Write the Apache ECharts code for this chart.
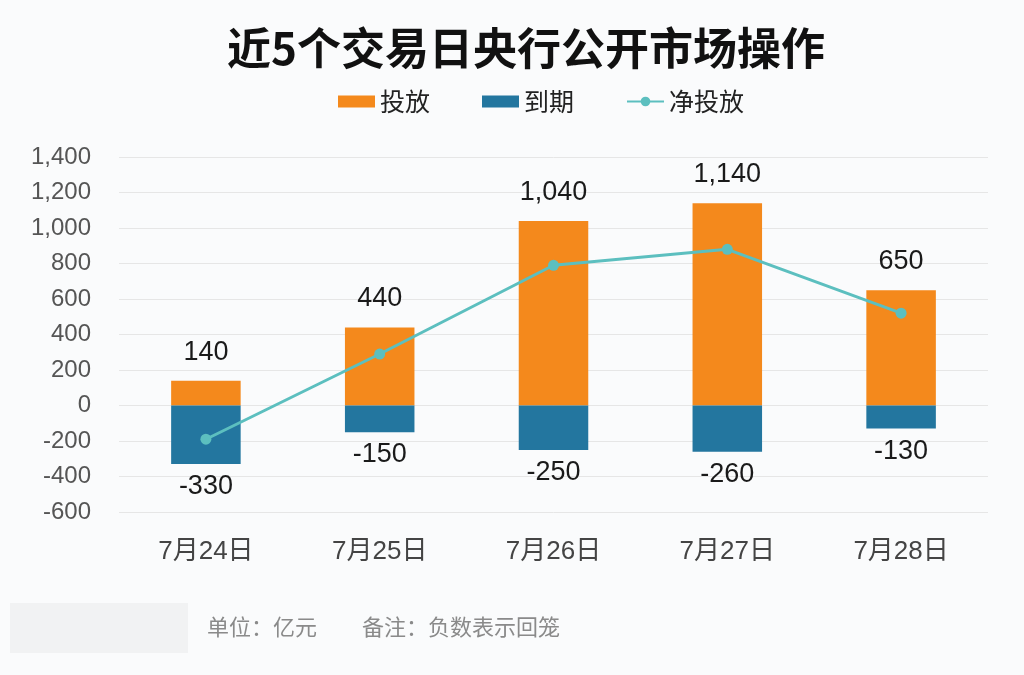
<!DOCTYPE html>
<html><head><meta charset="utf-8">
<script src="https://cdn.jsdelivr.net/npm/echarts@6/dist/echarts.min.js"></script>
<style>html,body{margin:0;padding:0;background:#fafbfc;}#c{width:1024px;height:675px;}</style>
</head><body><div id="c"></div>
<script>
var categories = ['7月24日','7月25日','7月26日','7月27日','7月28日'];
var injection = [140, 440, 1040, 1140, 650];
var maturity = [-330, -150, -250, -260, -130];
var netInjection = [-190, 290, 790, 880, 520];
var yTicks = {min: -600, max: 1400, interval: 200};

var chart = echarts.init(document.getElementById('c'));
var font = "'Noto Sans CJK SC', 'Liberation Sans', sans-serif";
var numFont = "'Liberation Sans', 'Noto Sans CJK SC', sans-serif";
chart.setOption({
  backgroundColor: '#fafbfc',
  animation: false,
  title: {text: '近5个交易日央行公开市场操作', left: 222, top: 21,
    textStyle: {fontSize: 44, fontWeight: 'bold', color: '#111', fontFamily: font}},
  legend: {top: 84, left: 333, itemGap: 52, itemWidth: 37, itemHeight: 12,
    textStyle: {fontSize: 25, color: '#222', fontFamily: font},
    data: [{name: '投放', icon: 'rect'}, {name: '到期', icon: 'rect'}, {name: '净投放'}]},
  grid: {left: 119, right: 36, top: 157, bottom: 163, containLabel: false},
  xAxis: {type: 'category', data: categories,
    axisLine: {show: false}, axisTick: {show: false},
    axisLabel: {fontSize: 26, color: '#444', margin: 27, fontFamily: numFont}},
  yAxis: {type: 'value', min: yTicks.min, max: yTicks.max, interval: yTicks.interval,
    axisLine: {show: false}, axisTick: {show: false},
    splitLine: {lineStyle: {color: '#e6e6e6', width: 1}},
    axisLabel: {fontSize: 24, color: '#555', margin: 28, fontFamily: numFont,
      formatter: function(v){ return v.toLocaleString('en-US'); }}},
  series: [
    {name: '投放', type: 'bar', stack: 's', data: injection, barWidth: '40%',
      itemStyle: {color: '#f4891c'},
      label: {show: true, position: 'top', distance: 15, fontSize: 27, color: '#1a1a1a', fontFamily: numFont,
        formatter: function(p){ return p.value.toLocaleString('en-US'); }}},
    {name: '到期', type: 'bar', stack: 's', data: maturity, barWidth: '40%',
      itemStyle: {color: '#23769f'},
      label: {show: true, position: 'bottom', distance: 9, fontSize: 27, color: '#1a1a1a', fontFamily: numFont}},
    {name: '净投放', type: 'line', data: netInjection, symbol: 'circle', symbolSize: 11,
      lineStyle: {color: '#5cbfbf', width: 3}, itemStyle: {color: '#5cbfbf'}, z: 5}
  ],
  graphic: [
    {type: 'rect', left: 10, top: 603, shape: {width: 178, height: 50}, style: {fill: '#f1f2f3'}},
    {type: 'text', left: 207, top: 616, style: {text: '单位：亿元', fontSize: 22, fill: '#8a8a8a', fontFamily: font}},
    {type: 'text', left: 362, top: 616, style: {text: '备注：负数表示回笼', fontSize: 22, fill: '#8a8a8a', fontFamily: font}}
  ]
});
</script></body></html>
